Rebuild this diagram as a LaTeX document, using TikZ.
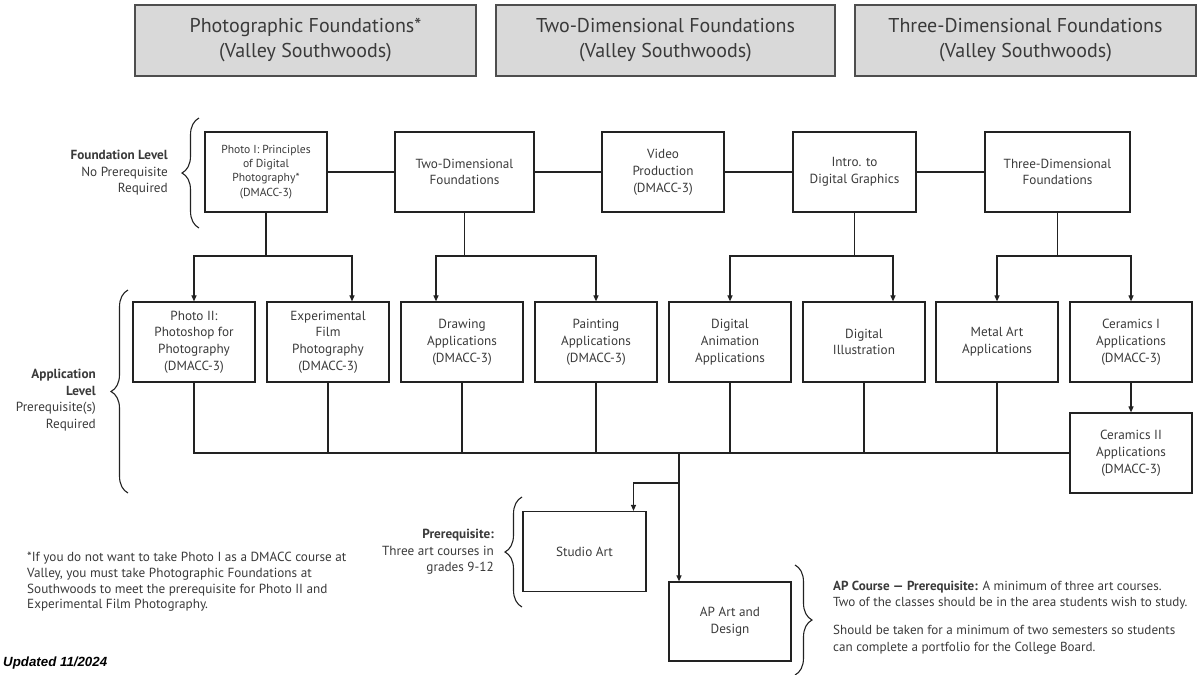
\documentclass[tikz,border=0pt]{standalone}
\usepackage{fontspec}
\setmainfont{PT Sans}
\newfontfamily\updfont{Liberation Sans}
\usetikzlibrary{arrows.meta,decorations.pathreplacing}
\definecolor{txt}{HTML}{3A3A3A}
\definecolor{ln}{HTML}{222222}
\definecolor{hdrfill}{HTML}{D9D9D9}
\tikzset{
  hdr/.style={draw=ln!80, fill=hdrfill, line width=1.2pt, text=txt, align=center,
    minimum height=71pt, inner sep=0pt, font=\fontsize{20}{25}\selectfont},
  box/.style={draw=ln, line width=1.2pt, text=txt, align=center, minimum height=80pt,
    minimum width=122pt, inner sep=0pt, font=\fontsize{13.2}{16.8}\selectfont},
  conn/.style={draw=ln, line width=1.1pt},
  arr/.style={conn, -{Triangle[length=6pt,width=5pt]}},
  brc/.style={draw=ln, line width=1.1pt, decorate, decoration={brace, amplitude=17pt, aspect=0.5}},
  lbl/.style={text=txt, font=\fontsize{13.2}{16.6}\selectfont, inner sep=0pt}
}
\begin{document}
\begin{tikzpicture}[x=1pt,y=-1pt]
\useasboundingbox (0,0) rectangle (1200,675);
% headers
\node[hdr, minimum width=341pt] (h1) at (305.5,40.5) {Photographic Foundations*\\(Valley Southwoods)};
\node[hdr, minimum width=339pt] (h2) at (665.5,40.5) {Two-Dimensional Foundations\\(Valley Southwoods)};
\node[hdr, minimum width=341pt] (h3) at (1025.5,40.5) {Three-Dimensional Foundations\\(Valley Southwoods)};
% foundation row
\node[box, font=\fontsize{11.6}{14.2}\selectfont] (f1) at (266,172) {Photo I: Principles\\of Digital\\Photography*\\(DMACC-3)};
\node[box, minimum width=139pt] (f2) at (464.5,172) {Two-Dimensional\\Foundations};
\node[box] (f3) at (663,172) {Video\\Production\\(DMACC-3)};
\node[box, minimum width=123pt] (f4) at (854.5,172) {Intro. to\\Digital Graphics};
\node[box, minimum width=145pt] (f5) at (1057.5,172) {Three-Dimensional\\Foundations};
% application row
\node[box] (a1) at (194,342) {Photo II:\\Photoshop for\\Photography\\(DMACC-3)};
\node[box] (a2) at (328,342) {Experimental\\Film\\Photography\\(DMACC-3)};
\node[box] (a3) at (462,342) {Drawing\\Applications\\(DMACC-3)};
\node[box] (a4) at (596,342) {Painting\\Applications\\(DMACC-3)};
\node[box] (a5) at (730,342) {Digital\\Animation\\Applications};
\node[box] (a6) at (864,342) {Digital\\Illustration};
\node[box] (a7) at (997,342) {Metal Art\\Applications};
\node[box] (a8) at (1131,342) {Ceramics I\\Applications\\(DMACC-3)};
\node[box] (c2) at (1131,453) {Ceramics II\\Applications\\(DMACC-3)};
% final courses
\node[box, minimum width=123pt] (sa) at (584.5,551.5) {Studio Art};
\node[box, minimum width=122pt, minimum height=79pt] (ap) at (730,621.5) {AP Art and\\Design};
% horizontal links in foundation row
\draw[conn] (f1) -- (f2);
\draw[conn] (f2) -- (f3);
\draw[conn] (f3) -- (f4);
\draw[conn] (f4) -- (f5);
% junctions
\coordinate (j1) at (266,256);
\coordinate (j2) at (464.5,256);
\coordinate (j4) at (854.5,256);
\coordinate (j5) at (1057.5,256);
\draw[conn] (f1) -- (j1);
\draw[arr] (j1) -| (a1.north);
\draw[arr] (j1) -| ([xshift=24pt]a2.north);
\draw[conn] (f2) -- (j2);
\draw[arr] (j2) -| ([xshift=-26pt]a3.north);
\draw[arr] (j2) -| (a4.north);
\draw[conn] (f4) -- (j4);
\draw[arr] (j4) -| (a5.north);
\draw[arr] (j4) -| ([xshift=29pt]a6.north);
\draw[conn] (f5) -- (j5);
\draw[arr] (j5) -| (a7.north);
\draw[arr] (j5) -| (a8.north);
\draw[arr] (a8) -- (c2);
% bus
\draw[conn] (a1.south) |- (c2.west);
\draw[conn] (a2.south) -- (a2.south |- c2.west);
\draw[conn] (a3.south) -- (a3.south |- c2.west);
\draw[conn] (a4.south) -- (a4.south |- c2.west);
\draw[conn] (a5.south) -- (a5.south |- c2.west);
\draw[conn] (a6.south) -- (a6.south |- c2.west);
\draw[conn] (a7.south) -- (a7.south |- c2.west);
\coordinate (t0) at (679,453);
\coordinate (t1) at (679,483);
\draw[conn] (t0) -- (t1);
\draw[arr] (t1) -| ([xshift=49pt]sa.north);
\draw[arr] (t1) -- (t1 |- ap.north);
% braces
\draw[brc] (199,228) -- (199,118);
\draw[brc] (128,493) -- (128,290);
\draw[brc] (522,607) -- (522,497);
\draw[brc] (795,565) -- (795,675);
% labels
\node[lbl, anchor=east, align=right] (lf) at (168,173) {\textbf{Foundation Level}\\No Prerequisite\\Required};
\node[lbl, anchor=east, align=right] (la) at (96,400) {\textbf{Application}\\\textbf{Level}\\Prerequisite(s)\\Required};
\node[lbl, anchor=east, align=right] (lp) at (494,552) {\textbf{Prerequisite:}\\Three art courses in\\grades 9-12};
\node[lbl, anchor=west, align=left, font=\fontsize{13.2}{15.7}\selectfont] (fn) at (27,582) {*If you do not want to take Photo I as a DMACC course at\\Valley, you must take Photographic Foundations at\\Southwoods to meet the prerequisite for Photo II and\\Experimental Film Photography.};
\node[lbl, anchor=west, align=left, font=\fontsize{13.1}{16.5}\selectfont] (apt) at (833,617.5) {\textbf{AP Course — Prerequisite:} A minimum of three art courses.\\Two of the classes should be in the area students wish to study.\\[11.5pt]Should be taken for a minimum of two semesters so students\\can complete a portfolio for the College Board.};
\node[anchor=west, inner sep=0pt, text=black, font=\updfont\bfseries\itshape\fontsize{13.3}{15}\selectfont] (upd) at (3,663) {Updated 11/2024};
\end{tikzpicture}
\end{document}
